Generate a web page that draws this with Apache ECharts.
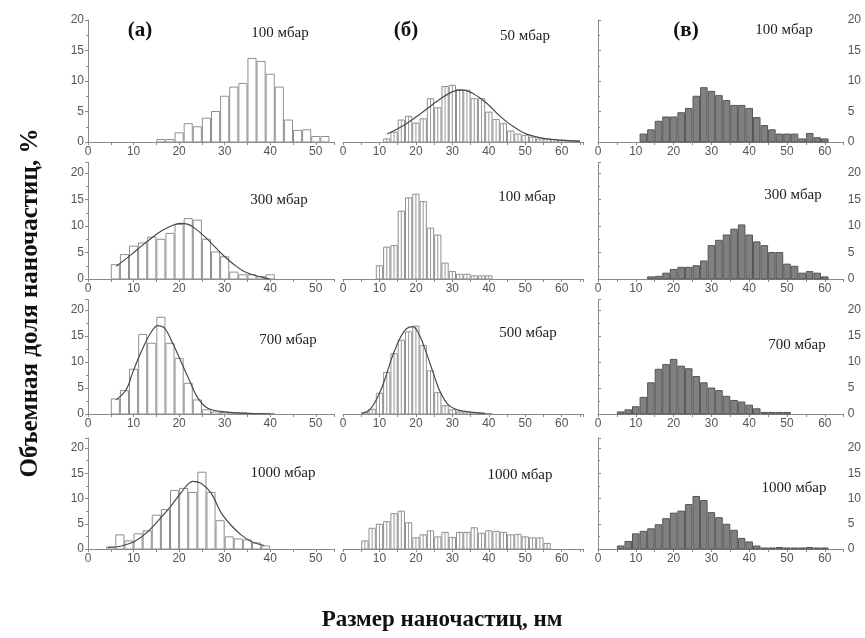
<!DOCTYPE html>
<html>
<head>
<meta charset="utf-8">
<script src="https://cdn.jsdelivr.net/npm/echarts@6/dist/echarts.min.js"></script>
<style>
html,body{margin:0;padding:0;background:#fff;}
#chart{width:865px;height:638px;}
</style>
</head>
<body>
<div id="chart"></div>
<script>
/*------------------------- данные ----------------------------*/
// (а) 100 мбар
var a1X = [16,18,20,22,24,26,28,30,32,34,36,38,40,42,44,46,48,50,52];
var a1Y = [0.4,0.4,1.5,3.0,2.5,3.9,5.0,7.5,9.0,9.6,13.7,13.2,11.1,9.0,3.6,1.9,2.0,0.9,0.9];
// (а) 300 мбар
var a2X = [6,8,10,12,14,16,18,20,22,24,26,28,30,32,34,36,38,40];
var a2Y = [2.7,4.6,6.2,6.8,7.9,7.5,8.6,10.3,11.4,11.1,7.5,5.1,4.2,1.3,0.8,0.8,0.5,0.8];
var a2FitX = [6.2,9.5,11.7,13.9,16,18.5,20.3,22,23.4,25.5,27.7,29.9,32.1,34.3,36.5,38.7,40];
var a2FitY = [2.4,4.6,6.2,7.7,9.0,10.1,10.5,10.3,9.6,8.1,6.2,4.3,2.7,1.4,0.7,0.2,0.0];
// (а) 700 мбар
var a3X = [6,8,10,12,14,16,18,20,22,24,26,28,30,32,34,36,38,40];
var a3Y = [2.9,4.5,8.6,15.3,13.6,18.6,13.6,10.7,5.9,2.7,0.8,0.4,0.3,0.2,0.2,0.1,0.1,0.1];
var a3FitX = [6.2,8.4,9.9,11.7,13.5,15.3,16.8,18.6,20.4,22.3,24.1,26.3,29.2,32.8,38,40];
var a3FitY = [2.7,4.7,8.2,12.0,15.2,17.0,16.5,13.6,10.1,6.4,3.1,1.1,0.5,0.2,0.05,0.0];
// (а) 1000 мбар
var a4X = [5,7,9,11,13,15,17,19,21,23,25,27,29,31,33,35,37,39];
var a4Y = [0.4,2.8,1.6,3.0,3.6,6.7,7.8,11.6,12.0,11.2,15.2,11.2,5.6,2.4,2.0,1.8,1.2,0.6];
var a4FitX = [4.4,7.3,10.2,13.1,16.1,18.2,20.4,23,24.8,27,29.2,31.4,33.6,35.8,38.7];
var a4FitY = [0.3,0.6,1.5,3.4,6.3,8.5,11.1,13.4,13.0,11.1,7.2,4.7,2.8,1.5,0.7];
// (б) 50 мбар
var b1X = [12,14,16,18,20,22,24,26,28,30,32,34,36,38,40,42,44,46,48,50,52,54,56,58,60,62,64];
var b1Y = [0.5,1.6,3.6,4.2,3.1,3.8,7.1,5.6,9.1,9.3,8.6,8.5,7.1,7.1,4.9,3.7,3.0,1.8,1.3,1.1,0.8,0.5,0.5,0.4,0.3,0.2,0.2];
var b1FitX = [12.1,16.6,21.2,25.8,30.3,33,35.8,39.5,43.1,46.8,50.4,55.9,60,65];
var b1FitY = [1.3,2.7,4.6,6.7,8.3,8.5,7.9,6.3,4.2,2.5,1.3,0.5,0.3,0.1];
// (б) 100 мбар
var b2X = [10,12,14,16,18,20,22,24,26,28,30,32,34,36,38,40];
var b2Y = [2.5,6.0,6.3,12.8,15.3,16.0,14.6,9.6,8.3,3.0,1.4,0.9,0.9,0.6,0.6,0.6];
// (б) 500 мбар
var b3X = [6,8,10,12,14,16,18,20,22,24,26,28,30,32,34,36,38,40];
var b3Y = [0.3,0.9,4.0,8.0,11.6,14.2,15.8,16.9,13.2,8.3,4.1,1.6,0.8,0.4,0.4,0.3,0.2,0.1];
var b3FitX = [5.2,7.4,9.7,11.5,13.3,15.6,17.4,19.2,21,22.8,24.7,26.5,28.7,31,34.6,39];
var b3FitY = [0.1,0.9,3.5,6.7,10.6,14.5,16.4,16.8,15.1,11.9,8.0,4.5,1.9,0.9,0.4,0.1];
// (б) 1000 мбар
var b4X = [6,8,10,12,14,16,18,20,22,24,26,28,30,32,34,36,38,40,42,44,46,48,50,52,54,56];
var b4Y = [1.6,4.1,4.9,5.4,7.0,7.5,5.2,2.2,2.8,3.6,2.4,3.3,2.3,3.3,3.3,4.2,3.1,3.6,3.5,3.3,2.8,2.9,2.4,2.2,2.2,1.1];
// (в) 100 мбар
var c1X = [12,14,16,18,20,22,24,26,28,30,32,34,36,38,40,42,44,46,48,50,52,54,56,58,60];
var c1Y = [1.3,2.0,3.4,4.1,4.1,4.8,5.5,7.5,8.9,8.3,7.6,6.8,6.0,6.0,5.5,4.0,2.7,2.0,1.3,1.3,1.3,0.5,1.4,0.7,0.5];
// (в) 300 мбар
var c2X = [14,16,18,20,22,24,26,28,30,32,34,36,38,40,42,44,46,48,50,52,54,56,58,60];
var c2Y = [0.4,0.5,1.1,1.8,2.2,2.2,2.5,3.4,6.3,7.3,8.3,9.4,10.2,8.3,7.0,6.3,5.0,5.0,2.8,2.4,1.1,1.4,1.1,0.4];
// (в) 700 мбар
var c3X = [6,8,10,12,14,16,18,20,22,24,26,28,30,32,34,36,38,40,42,44,46,48,50];
var c3Y = [0.4,0.8,1.4,3.2,6.0,8.6,9.5,10.5,9.2,8.7,7.2,6.0,5.0,4.5,3.4,2.6,2.3,1.7,1.0,0.3,0.3,0.3,0.3];
// (в) 1000 мбар
var c4X = [6,8,10,12,14,16,18,20,22,24,26,28,30,32,34,36,38,40,42,44,46,48,50,52,54,56,58,60];
var c4Y = [0.6,1.5,3.0,3.5,4.0,4.8,6.0,7.1,7.5,8.8,10.4,9.6,7.2,6.2,4.9,3.7,2.1,1.4,0.6,0.2,0.2,0.3,0.2,0.2,0.2,0.3,0.2,0.2];

/*------------------------- раскладка ----------------------------*/
// колонки: (а), (б), (в)
var cols = [
    {left: 88,  width: 246,   xMax: 54, kind: 'a', yPos: 'left'},
    {left: 343, width: 240.6, xMax: 66, kind: 'b', yPos: 'none'},
    {left: 598, width: 245.7, xMax: 65, kind: 'c', yPos: 'right'}
];
// строки
var rows = [
    {top: 20,    height: 122,   yMax: 20},
    {top: 162.4, height: 116.6, yMax: 22},
    {top: 299.6, height: 114.4, yMax: 22},
    {top: 437.9, height: 111.1, yMax: 22}
];

var panels = [
    {c:0, r:0, x:a1X, y:a1Y, label:'100 мбар',  lx:280, ly:33},
    {c:1, r:0, x:b1X, y:b1Y, fx:b1FitX, fy:b1FitY, label:'50 мбар', lx:525, ly:36},
    {c:2, r:0, x:c1X, y:c1Y, label:'100 мбар',  lx:784, ly:30},
    {c:0, r:1, x:a2X, y:a2Y, fx:a2FitX, fy:a2FitY, label:'300 мбар', lx:279, ly:200},
    {c:1, r:1, x:b2X, y:b2Y, label:'100 мбар',  lx:527, ly:197},
    {c:2, r:1, x:c2X, y:c2Y, label:'300 мбар',  lx:793, ly:195},
    {c:0, r:2, x:a3X, y:a3Y, fx:a3FitX, fy:a3FitY, label:'700 мбар', lx:288, ly:340},
    {c:1, r:2, x:b3X, y:b3Y, fx:b3FitX, fy:b3FitY, label:'500 мбар', lx:528, ly:333},
    {c:2, r:2, x:c3X, y:c3Y, label:'700 мбар',  lx:797, ly:345},
    {c:0, r:3, x:a4X, y:a4Y, fx:a4FitX, fy:a4FitY, label:'1000 мбар', lx:283, ly:473},
    {c:1, r:3, x:b4X, y:b4Y, label:'1000 мбар', lx:520, ly:475},
    {c:2, r:3, x:c4X, y:c4Y, label:'1000 мбар', lx:794, ly:488}
];

var axisColor = '#8a8a8a';
var labelFont = '"Liberation Sans", Arial, sans-serif';
var serifFont = '"Liberation Serif", "Times New Roman", serif';

//столбики гистограммы (ширина бина = 2 нм)
function barRenderer(kind){
    return function(params, api){
        var c = api.value(0), v = api.value(1);
        var lt = api.coord([c - 1, v]);
        var rb = api.coord([c + 1, 0]);
        var w = rb[0] - lt[0], h = rb[1] - lt[1];
        var fill = kind === 'c' ? '#808080' : '#ffffff';
        var stroke = kind === 'c' ? '#555555' : '#8f8f8f';
        var items = [{
            type: 'rect',
            shape: {x: lt[0] + 0.5, y: lt[1], width: w - 1, height: h},
            style: {fill: fill, stroke: stroke, lineWidth: 1}
        }];
        if (kind === 'b') {
            items.push({
                type: 'line',
                shape: {x1: lt[0] + w / 2, y1: lt[1], x2: lt[0] + w / 2, y2: rb[1]},
                style: {stroke: '#999999', lineWidth: 1}
            });
        }
        return {type: 'group', children: items};
    };
}

var grids = [], xAxes = [], yAxes = [], series = [], graphics = [];
panels.forEach(function(p, i){
    var col = cols[p.c], row = rows[p.r];
    grids.push({left: col.left, top: row.top, width: col.width, height: row.height,
        containLabel: false, outerBoundsMode: 'none'});
    xAxes.push({
        gridIndex: i, type: 'value', min: 0, max: col.xMax, interval: 5,
        axisLine: {show: true, onZero: false, lineStyle: {color: axisColor, width: 1}},
        axisTick: {show: true, length: 3, lineStyle: {color: axisColor}},
        axisLabel: {color: '#555', fontSize: 12, fontFamily: labelFont, margin: 4,
            formatter: function(v){ return v % 10 === 0 ? String(v) : ''; }},
        splitLine: {show: false}
    });
    yAxes.push({
        gridIndex: i, type: 'value', min: 0, max: row.yMax, interval: 5,
        show: col.yPos !== 'none',
        position: col.yPos === 'right' ? 'right' : 'left',
        axisLine: {show: true, lineStyle: {color: axisColor, width: 1}},
        axisTick: {show: true, length: 3, lineStyle: {color: axisColor}},
        minorTick: {show: true, splitNumber: 2, length: 2, lineStyle: {color: axisColor}},
        axisLabel: {color: '#555', fontSize: 12, fontFamily: labelFont, margin: 4,
            formatter: function(v){ return v % 5 === 0 ? String(v) : ''; }},
        splitLine: {show: false}
    });
    var pts = p.x.map(function(x, k){ return [x, p.y[k]]; });
    series.push({
        type: 'custom', xAxisIndex: i, yAxisIndex: i,
        renderItem: barRenderer(col.kind),
        encode: {x: 0, y: 1},
        data: pts, silent: true
    });
    if (p.fx) {
        series.push({
            type: 'line', xAxisIndex: i, yAxisIndex: i, smooth: 0.35,
            symbol: 'none', silent: true, z: 5,
            lineStyle: {color: '#4a4a4a', width: 1.2},
            data: p.fx.map(function(x, k){ return [x, p.fy[k]]; })
        });
    }
    graphics.push({type: 'text', x: p.lx, y: p.ly, z: 10,
        style: {text: p.label, font: '15px ' + serifFont, fill: '#222',
            align: 'center', verticalAlign: 'middle', textAlign: 'center', textVerticalAlign: 'middle'}});
});

//подписи (а), (б), (в)
[['(а)', 140], ['(б)', 406], ['(в)', 686]].forEach(function(t){
    graphics.push({type: 'text', x: t[1], y: 31, z: 10,
        style: {text: t[0], font: 'bold 21px ' + serifFont, fill: '#111',
            align: 'center', verticalAlign: 'middle', textAlign: 'center', textVerticalAlign: 'middle'}});
});
//заголовки осей
graphics.push({type: 'text', x: 31, y: 303, rotation: Math.PI / 2, z: 10,
    style: {text: 'Объемная доля наночастиц, %', font: 'bold 25px ' + serifFont, fill: '#111',
        align: 'center', verticalAlign: 'middle', textAlign: 'center', textVerticalAlign: 'middle'}});
graphics.push({type: 'text', x: 442, y: 620, z: 10,
    style: {text: 'Размер наночастиц, нм', font: 'bold 23px ' + serifFont, fill: '#111',
        align: 'center', verticalAlign: 'middle', textAlign: 'center', textVerticalAlign: 'middle'}});

var myChart = echarts.init(document.getElementById('chart'), null, {renderer: 'canvas'});
myChart.setOption({
    animation: false,
    backgroundColor: '#ffffff',
    grid: grids,
    xAxis: xAxes,
    yAxis: yAxes,
    series: series,
    graphic: graphics
});
</script>
</body>
</html>
